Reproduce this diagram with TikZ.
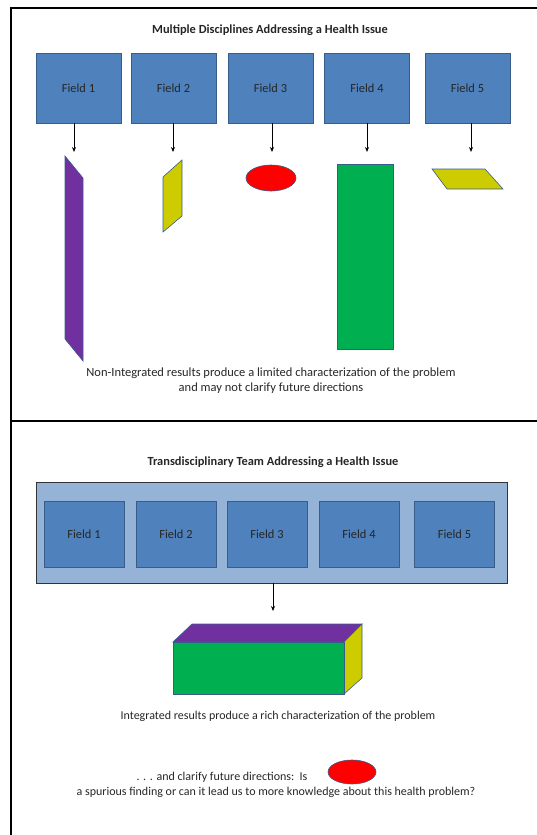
\documentclass[tikz,border=0pt]{standalone}
\usepackage{fontspec}
\setmainfont{Carlito}
\usepackage{xcolor}
\usetikzlibrary{arrows.meta,positioning,calc,shapes.geometric}

\definecolor{fieldblue}{HTML}{4F81BD}
\definecolor{fieldedge}{HTML}{385D8A}
\definecolor{teamblue}{HTML}{95B3D7}
\definecolor{rgreen}{HTML}{00B050}
\definecolor{rpurple}{HTML}{7030A0}
\definecolor{ryellow}{HTML}{CCCC00}
\definecolor{textgray}{HTML}{262626}

\begin{document}
\begin{tikzpicture}[
    x=1pt, y=-1pt,
    field/.style={rectangle, draw=fieldedge, fill=fieldblue, line width=0.8pt, minimum width=85pt, minimum height=70pt, inner sep=0pt, font=\fontsize{12.4}{14}\selectfont, text=textgray},
    tfield/.style={field, minimum width=80pt, minimum height=66pt},
    team/.style={rectangle, draw=black!80, fill=teamblue, line width=0.8pt, minimum width=471pt, minimum height=101pt, inner sep=0pt},
    result/.style={draw=fieldedge, line width=0.6pt},
    title/.style={font=\bfseries\fontsize{12.4}{14}\selectfont, text=textgray},
    caption/.style={font=\fontsize{12}{15}\selectfont, text=textgray, align=center},
    down/.style={-{Stealth[length=5pt,width=4pt]}, line width=0.8pt},
    frame/.style={line width=2.5pt}
]
    \useasboundingbox (0,0) rectangle (537,835);

    % Frame
    \draw[frame] (11,835) -- (11,8) -- (537,8);
    \draw[frame] (11,421) -- (537,421);

    % Top panel
    \node[title] (top) at (270,30) {Multiple Disciplines Addressing a Health Issue};
    \node[field] (f1) at (78.5,88) {Field 1};
    \node[field] (f2) at (173.5,88) {Field 2};
    \node[field] (f3) at (270.5,88) {Field 3};
    \node[field] (f4) at (367,88) {Field 4};
    \node[field] (f5) at (467.5,88) {Field 5};

    \coordinate (a1) at (74,152);
    \coordinate (a2) at (173,152);
    \coordinate (a3) at (272,152);
    \coordinate (a4) at (367,152);
    \coordinate (a5) at (471,152);
    \foreach \i in {1,...,5}
        \draw[down] (f\i.south -| a\i) -- (a\i);

    % Non-integrated results
    \filldraw[result, fill=rpurple] (65,156) -- (83,178) -- (83,361) -- (65,339) -- cycle;
    \filldraw[result, fill=ryellow] (163,177) -- (182,160) -- (182,216) -- (163,232) -- cycle;
    \node[ellipse, result, fill=red, minimum width=50pt, minimum height=26pt, inner sep=0pt] (e1) at (271,178) {};
    \filldraw[result, fill=rgreen] (337,164) rectangle (393,349);
    \filldraw[result, fill=ryellow] (432,169) -- (485,169) -- (503,189) -- (447,189) -- cycle;

    \node[caption, font=\fontsize{12.5}{15}\selectfont] (cap1) at (271,380.5) {Non-Integrated results produce a limited characterization of the problem\\and may not clarify future directions};

    % Bottom panel
    \node[title] (bottom) at (273,462) {Transdisciplinary Team Addressing a Health Issue};
    \node[team] (team) at (271.5,532.5) {};
    \node[tfield] (t1) at (84,534) {Field 1};
    \node[tfield] (t2) at (176,534) {Field 2};
    \node[tfield] (t3) at (267,534) {Field 3};
    \node[tfield] (t4) at (359,534) {Field 4};
    \node[tfield] (t5) at (454.5,534) {Field 5};

    \coordinate (a6) at (273,611);
    \draw[down] (team.south -| a6) -- (a6);

    % Integrated result (box)
    \filldraw[result, fill=rpurple] (173,642) -- (192,624) -- (362,624) -- (344,642) -- cycle;
    \filldraw[result, fill=ryellow] (344,642) -- (362,624) -- (362,678) -- (344,694) -- cycle;
    \filldraw[result, fill=rgreen] (173,642) rectangle (344,694);

    \node[caption] (cap2) at (278,716) {Integrated results produce a rich characterization of the problem};
    \node[caption, anchor=east] (cap3) at (311,777) {. . . and clarify future directions:\ \ Is};
    \node[ellipse, result, fill=red, minimum width=48pt, minimum height=24pt, inner sep=0pt] (e2) at (352,772) {};
    \node[caption] (cap4) at (276,792) {a spurious finding or can it lead us to more knowledge about this health problem?};
\end{tikzpicture}
\end{document}
